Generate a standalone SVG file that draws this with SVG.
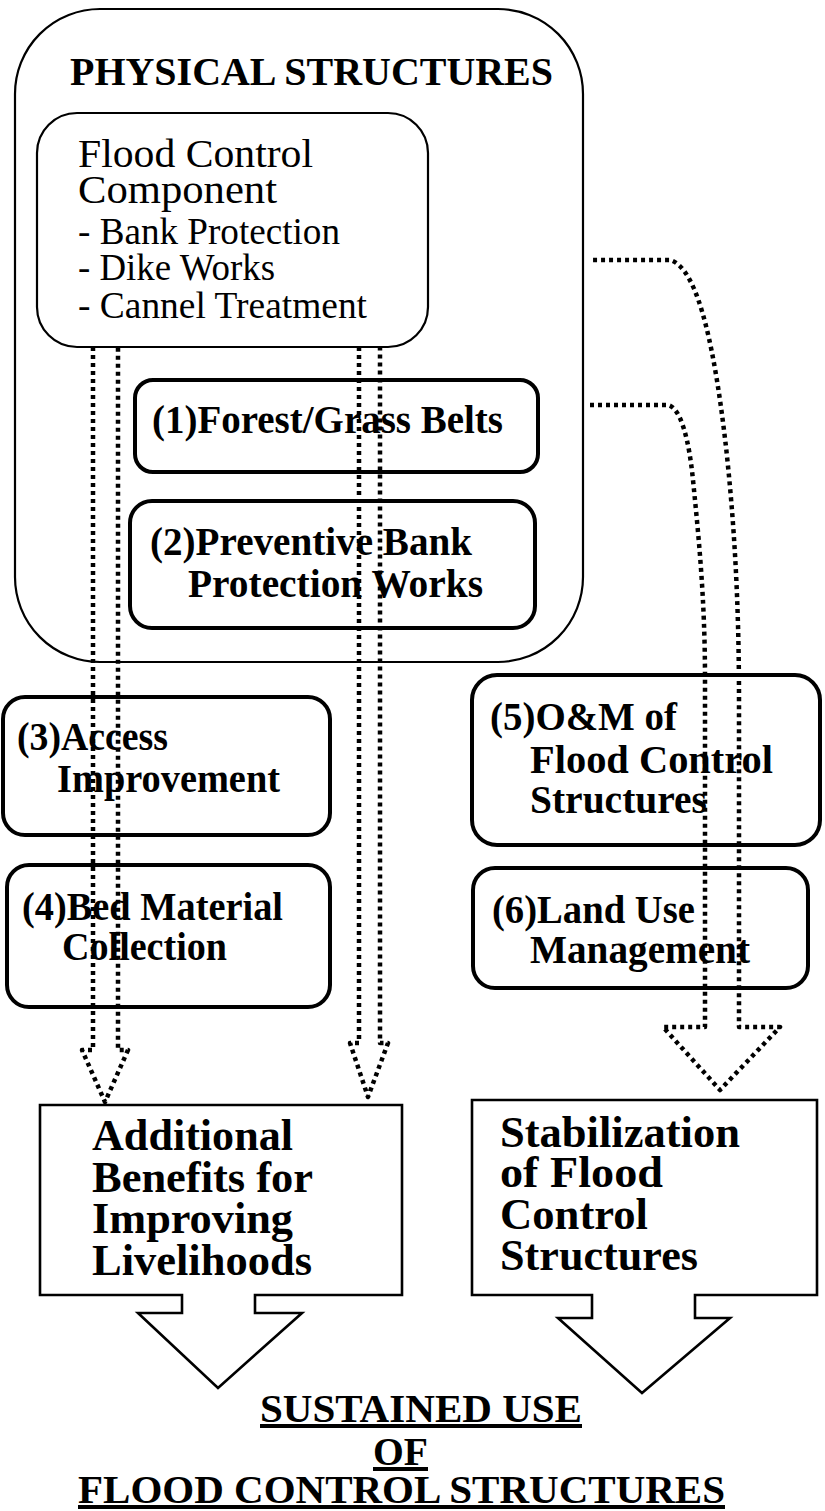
<svg xmlns="http://www.w3.org/2000/svg" width="825" height="1511" viewBox="0 0 825 1511">
  <style>
    .bg { fill: #ffffff; }
    .frame { fill: #ffffff; stroke: #000; stroke-width: 2.2; }
    .item { fill: #ffffff; stroke: #000; stroke-width: 4; }
    .result { fill: #ffffff; stroke: #000; stroke-width: 2.6; stroke-linejoin: miter; }
    .dots { fill: none; stroke: #000; stroke-width: 4.5; stroke-dasharray: 4 4; stroke-linejoin: round; }
    text { font-family: "Liberation Serif", "Times New Roman", serif; fill: #000; }
    .reg { font-size: 40px; }
    .list { font-size: 37px; }
    .b { font-weight: bold; font-size: 39px; }
    .big { font-weight: bold; font-size: 44px; }
    .foot { font-weight: bold; font-size: 40px; text-decoration: underline; }
  </style>

  <rect class="bg" x="0" y="0" width="825" height="1511"/>

  <!-- outer group: physical structures -->
  <g id="physical-structures">
    <rect class="frame" x="15" y="9" width="568" height="653" rx="85" ry="85"/>
    <text class="b" x="70" y="85" font-size="36" textLength="483" lengthAdjust="spacingAndGlyphs">PHYSICAL STRUCTURES</text>
  </g>

  <g id="flood-control-component">
    <rect class="frame" x="37" y="113" width="391" height="234" rx="40" ry="40"/>
    <text class="reg" x="78" y="167" textLength="235" lengthAdjust="spacingAndGlyphs">Flood Control</text>
    <text class="reg" x="78" y="203" textLength="199" lengthAdjust="spacingAndGlyphs">Component</text>
    <text class="list" x="78" y="244" textLength="262" lengthAdjust="spacingAndGlyphs">- Bank Protection</text>
    <text class="list" x="78" y="280" textLength="197" lengthAdjust="spacingAndGlyphs">- Dike Works</text>
    <text class="list" x="78" y="318" textLength="289" lengthAdjust="spacingAndGlyphs">- Cannel Treatment</text>
  </g>

  <g id="forest-grass-belts">
    <rect class="item" x="135" y="380" width="403" height="92" rx="18" ry="18"/>
    <text class="b" x="152" y="433" textLength="351" lengthAdjust="spacingAndGlyphs">(1)Forest/Grass Belts</text>
  </g>

  <g id="preventive-bank-protection">
    <rect class="item" x="130" y="501" width="405" height="127" rx="22" ry="22"/>
    <text class="b" x="150" y="555" textLength="322" lengthAdjust="spacingAndGlyphs">(2)Preventive Bank</text>
    <text class="b" x="188" y="597" textLength="295" lengthAdjust="spacingAndGlyphs">Protection Works</text>
  </g>

  <g id="access-improvement">
    <rect class="item" x="3" y="697" width="327" height="138" rx="22" ry="22"/>
    <text class="b" x="17" y="750" textLength="151" lengthAdjust="spacingAndGlyphs">(3)Access</text>
    <text class="b" x="57" y="792" textLength="223" lengthAdjust="spacingAndGlyphs">Improvement</text>
  </g>

  <g id="bed-material-collection">
    <rect class="item" x="7" y="865" width="323" height="142" rx="22" ry="22"/>
    <text class="b" x="22" y="920" textLength="261" lengthAdjust="spacingAndGlyphs">(4)Bed Material</text>
    <text class="b" x="62" y="960" textLength="165" lengthAdjust="spacingAndGlyphs">Collection</text>
  </g>

  <g id="om-flood-control">
    <rect class="item" x="472" y="675" width="348" height="170" rx="25" ry="25"/>
    <text class="b" x="490" y="730" textLength="187" lengthAdjust="spacingAndGlyphs">(5)O&amp;M of</text>
    <text class="b" x="530" y="773" textLength="243" lengthAdjust="spacingAndGlyphs">Flood Control</text>
    <text class="b" x="530" y="813" textLength="177" lengthAdjust="spacingAndGlyphs">Structures</text>
  </g>

  <g id="land-use-management">
    <rect class="item" x="473" y="868" width="335" height="120" rx="22" ry="22"/>
    <text class="b" x="492" y="923" textLength="203" lengthAdjust="spacingAndGlyphs">(6)Land Use</text>
    <text class="b" x="530" y="963" textLength="220" lengthAdjust="spacingAndGlyphs">Management</text>
  </g>

  <!-- result boxes with block arrows -->
  <g id="additional-benefits">
    <path class="result" d="M40,1105 H402 V1295 H255 V1313 H302 L218,1388 L138,1313 H182 V1295 H40 Z"/>
    <text class="big" x="92" y="1150" textLength="201" lengthAdjust="spacingAndGlyphs">Additional</text>
    <text class="big" x="92" y="1192" textLength="221" lengthAdjust="spacingAndGlyphs">Benefits for</text>
    <text class="big" x="92" y="1233" textLength="201" lengthAdjust="spacingAndGlyphs">Improving</text>
    <text class="big" x="92" y="1275" textLength="220" lengthAdjust="spacingAndGlyphs">Livelihoods</text>
  </g>

  <g id="stabilization">
    <path class="result" d="M472,1100 H817 V1295 H695 V1318 H730 L642,1393 L558,1318 H592 V1295 H472 Z"/>
    <text class="big" x="500" y="1147" textLength="240" lengthAdjust="spacingAndGlyphs">Stabilization</text>
    <text class="big" x="500" y="1187" textLength="163" lengthAdjust="spacingAndGlyphs">of Flood</text>
    <text class="big" x="500" y="1229" textLength="148" lengthAdjust="spacingAndGlyphs">Control</text>
    <text class="big" x="500" y="1270" textLength="198" lengthAdjust="spacingAndGlyphs">Structures</text>
  </g>

  <g id="sustained-use">
    <text class="foot" x="260" y="1422" textLength="322" lengthAdjust="spacingAndGlyphs">SUSTAINED USE</text>
    <text class="foot" x="373" y="1465" textLength="55" lengthAdjust="spacingAndGlyphs">OF</text>
    <text class="foot" x="78" y="1503" textLength="647" lengthAdjust="spacingAndGlyphs">FLOOD CONTROL STRUCTURES</text>
  </g>

  <!-- dotted hollow arrows -->
  <g id="connectors">
    <path class="dots" d="M93,347 V1050 H82 L105,1102 L128,1050 H118 V347"/>
    <path class="dots" d="M359,347 V1043 H350 L368,1097 L388,1043 H380 V347"/>
    <path class="dots" d="M590,405 H668 C681,408 689,440 693,480 C699,540 705,600 705,680 V1027 H663 L720,1090 L780,1027 H739 V700 C739,600 734,520 726,447 C716,360 700,268 670,260 H590"/>
  </g>
</svg>
